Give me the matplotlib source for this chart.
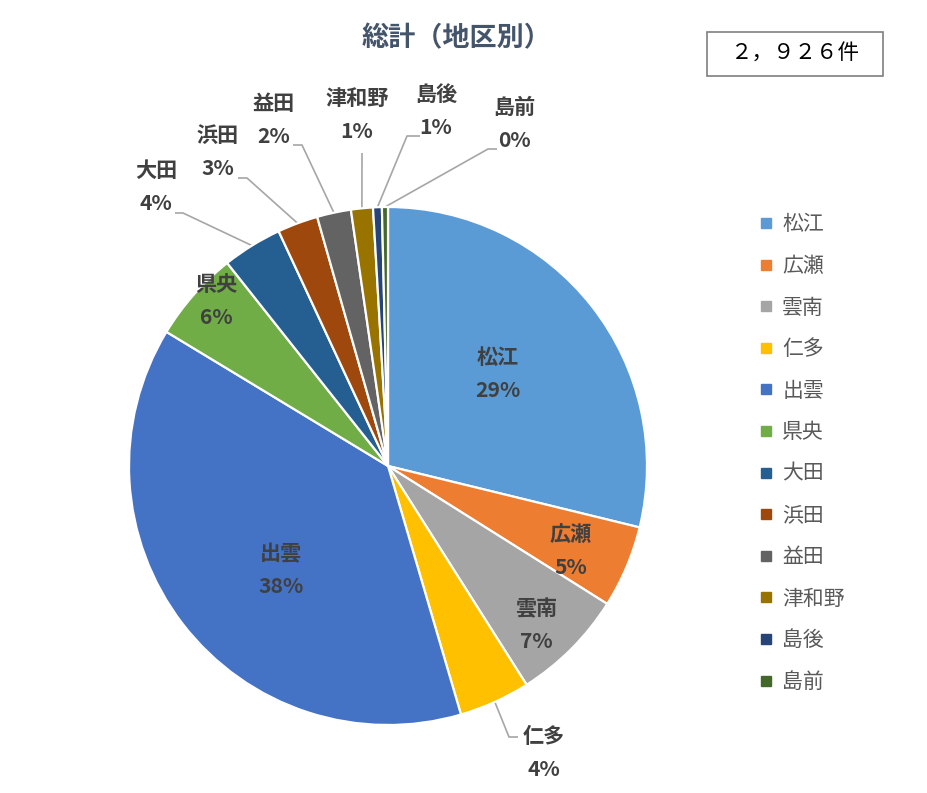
import matplotlib
matplotlib.use("Agg")
import matplotlib.pyplot as plt
from matplotlib.lines import Line2D
from matplotlib.patches import Rectangle
import numpy as np

plt.rcParams['font.family'] = ['Noto Sans CJK JP', 'DejaVu Sans']

# data
districts = ['松江', '広瀬', '雲南', '仁多', '出雲', '県央', '大田', '浜田', '益田', '津和野', '島後', '島前']
counts = [843, 150, 207, 130, 1118, 166, 109, 74, 62, 40, 16, 11]
colors = ['#5B9BD5', '#ED7D31', '#A5A5A5', '#FFC000', '#4472C4', '#70AD47',
          '#255E91', '#9E480E', '#636363', '#997300', '#264478', '#43682B']
total_label = '２，９２６件'
title = '総計（地区別）'

W, H = 928, 793
CX, CY, R = 388, H - 466, 259

# label layout in pixels from top-left: (x, y) of label centre
label_pos = {
    '松江': (498, 374), '広瀬': (571, 551), '雲南': (536, 625), '仁多': (544, 753),
    '出雲': (281, 570), '県央': (216, 301), '大田': (156, 187), '浜田': (218, 152),
    '益田': (274, 120), '津和野': (357, 115), '島後': (436, 111), '島前': (514, 124),
}
# leader lines: (end, elbow) in pixels from top-left
leaders = {
    '大田': ((175, 213), (183, 213)),
    '浜田': ((238, 178), (247, 178)),
    '益田': ((293, 145), (302, 145)),
    '津和野': ((362, 153), (362, 153)),
    '島後': ((420, 136), (407, 136)),
    '島前': ((497, 149), (488, 149)),
    '仁多': ((518, 737), (509, 737)),
}

fig = plt.figure(figsize=(W / 100, H / 100), dpi=100)
ax = fig.add_axes([0, 0, 1, 1])

wedges, _ = ax.pie(counts, colors=colors, startangle=90, counterclock=False,
                   center=(CX, CY), radius=R, frame=True,
                   wedgeprops=dict(edgecolor='white', linewidth=1.6))
ax.set_xlim(0, W)
ax.set_ylim(0, H)
ax.set_aspect('equal')
ax.axis('off')

for name, cnt, w in zip(districts, counts, wedges):
    pct = round(cnt / sum(counts) * 100)
    x, y = label_pos[name]
    ax.text(x, H - y, f'{name}\n{pct}%', ha='center', va='center', fontsize=15.2,
            fontweight='bold', color='#404040', linespacing=1.7)
    if name in leaders:
        mid = np.deg2rad((w.theta1 + w.theta2) / 2)
        sx, sy = CX + R * np.cos(mid), CY + R * np.sin(mid)
        (ex, ey), (bx, by) = leaders[name]
        ax.plot([sx, bx, ex], [sy, H - by, H - ey], color='#A6A6A6', lw=1.2,
                solid_capstyle='butt', zorder=0.5)

ax.text(457, H - 38, title, ha='center', va='center', fontsize=19.5,
        fontweight='bold', color='#44546A')

ax.add_patch(Rectangle((707, H - 76), 176, 44, fill=False, edgecolor='#7F7F7F', lw=1.2))
ax.text(795, H - 54, total_label, ha='center', va='center', fontsize=15.5, color='black')

handles = [Line2D([], [], marker='s', linestyle='none', markersize=7,
                  markerfacecolor=c, markeredgecolor=c) for c in colors]
ax.legend(handles, districts, loc='upper left', bbox_to_anchor=(748 / W, 1 - 203 / H),
          bbox_transform=fig.transFigure, frameon=False, fontsize=15,
          handlelength=0.7, handletextpad=0.45, labelspacing=0.94, borderpad=0,
          labelcolor='#595959')

fig.savefig('out.png', dpi=100)
